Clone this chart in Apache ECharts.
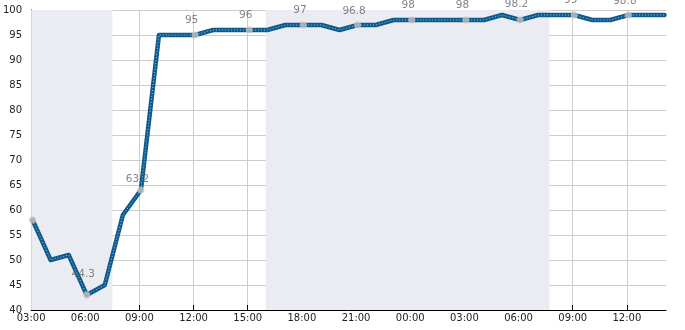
<!DOCTYPE html>
<html>
<head>
<meta charset="utf-8">
<script src="https://cdn.jsdelivr.net/npm/echarts@6/dist/echarts.min.js"></script>
<style>html,body{margin:0;padding:0;background:#fff}#c{width:685px;height:330px}</style>
</head>
<body>
<div id="c"></div>
<script>
// hourly samples taken at HH:05, starting 03:05 (day 1) to 14:05 (day 2)
var sampleTimes = ["03:05","04:05","05:05","06:05","07:05","08:05","09:05","10:05","11:05","12:05","13:05","14:05",
  "15:05","16:05","17:05","18:05","19:05","20:05","21:05","22:05","23:05","00:05","01:05","02:05",
  "03:05","04:05","05:05","06:05","07:05","08:05","09:05","10:05","11:05","12:05","13:05","14:05"];
var values = [58,50,51,43,45,59,64,95,95,95,96,96,
  96,96,97,97,97,96,97,97,98,98,98,98,
  98,98,99,98,99,99,99,98,98,99,99,99];
var tickLabels = ["03:00","06:00","09:00","12:00","15:00","18:00","21:00","00:00","03:00","06:00","09:00","12:00"];
// annotated values shown at every 3rd hour
var annotHours = ["06:00","09:00","12:00","15:00","18:00","21:00","00:00","03:00","06:00","09:00","12:00"];
var annotValues = [44.3,63.2,95,96,97,96.8,98,98,98.2,99,98.8];
// shaded periods (night)
var shadeStart = ["03:00","16:00"];
var shadeEnd = ["07:30","07:43"];
var axisEnd = "14:10";

// convert clock strings to hours since the first 03:00, rolling into day 2
function toHours(list){
  var out = [], day = 0, prev = -1;
  list.forEach(function(s){
    var p = s.split(":"), h = +p[0] + (+p[1])/60;
    if (h < prev) day += 24;
    prev = h;
    out.push(h + day - 3);
  });
  return out;
}
var xs = toHours(sampleTimes);
var lineData = xs.map(function(x,i){ return [x, values[i]]; });
var markerData = lineData.filter(function(d,i){ return i % 3 === 0; });
var annotX = toHours(["03:00"].concat(annotHours)).slice(1);
var annotData = annotX.map(function(x,i){ return [x, annotValues[i]]; });
var shadeS = toHours(shadeStart), shadeE = [toHours(["03:00", shadeEnd[0]])[1], toHours(["03:00","16:00","00:00",shadeEnd[1]])[3]];
var xMax = toHours(["03:00","12:00","00:00",axisEnd])[3];
var tickVals = tickLabels.map(function(t,i){ return i*3; });

var font = 'DejaVu Sans';
var chart = echarts.init(document.getElementById('c'), null, {renderer:'canvas'});
chart.setOption({
  animation:false,
  grid:{left:31,right:19,top:10,bottom:20,containLabel:false},
  xAxis:{
    type:'value', min:0, max:xMax, interval:3,
    axisLine:{lineStyle:{color:'#000',width:1}},
    axisTick:{inside:true,length:5,lineStyle:{color:'#000'},customValues:tickVals},
    axisLabel:{customValues:tickVals,color:'#222',fontFamily:font,fontSize:10,margin:3,
      formatter:function(v){ var k=Math.round(v/3); return tickLabels[k]||''; }},
    splitLine:{show:true,lineStyle:{color:'#cccccc',width:1}}
  },
  yAxis:{
    type:'value', min:40, max:100, interval:5,
    axisLine:{show:true,lineStyle:{color:'#000',width:1}},
    axisTick:{show:true,inside:true,length:5,lineStyle:{color:'#000'}},
    minorTick:{show:true,splitNumber:5,length:3,lineStyle:{color:'#000'}},
    axisLabel:{color:'#222',fontFamily:font,fontSize:10,margin:9},
    splitLine:{show:true,lineStyle:{color:'#cccccc',width:1}}
  },
  series:[
    {type:'line', data:[], z:-1, silent:true,
     markArea:{silent:true,itemStyle:{color:'#ebecf2'},
       data:[[{xAxis:shadeS[0]},{xAxis:shadeE[0]}],[{xAxis:shadeS[1]},{xAxis:shadeE[1]}]]}},
    {type:'line', data:lineData, smooth:false, showSymbol:false, z:3,
     lineStyle:{color:'#0d5a8c',width:4.5,cap:'round',join:'round'}},
    {type:'line', data:lineData, smooth:false, showSymbol:false, z:4,
     lineStyle:{color:'#9fc6e2',width:1,type:[1,2]}},
    {type:'scatter', data:markerData, symbol:'circle', symbolSize:7, z:5,
     itemStyle:{color:'#c4c4c4'}},
    {type:'scatter', data:annotData, symbolSize:0, z:6, clip:false,
     label:{show:true,position:'top',distance:9,offset:[-2,0],color:'#666666',fontFamily:font,fontSize:10.5,
       formatter:function(p){ return String(p.value[1]); }}}
  ]
});
</script>
</body>
</html>
